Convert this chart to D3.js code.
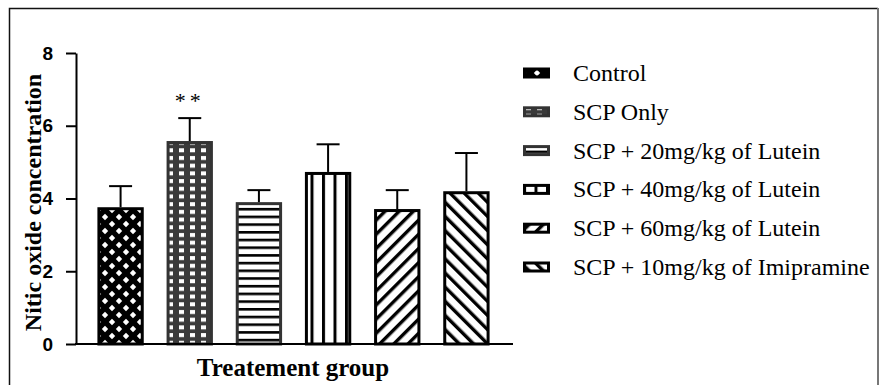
<!DOCTYPE html>
<html>
<head>
<meta charset="utf-8">
<script src="https://cdn.jsdelivr.net/npm/d3@7"></script>
<style>
	body { margin: 0; background: #fff; }
	svg { display: block; }
</style>
</head>
<body>
<div id="wrapper"></div>
<script>
// Data
const groups = [
	"Control",
	"SCP Only",
	"SCP + 20mg/kg of Lutein",
	"SCP + 40mg/kg of Lutein",
	"SCP + 60mg/kg of Lutein",
	"SCP + 10mg/kg of Imipramine",
];
const means = [3.76, 5.58, 3.9, 4.73, 3.71, 4.2];
const errors = [0.58, 0.63, 0.33, 0.76, 0.52, 1.05];
const marks = ["", "**", "", "", "", ""];
const yTicks = [0, 2, 4, 6, 8];
const patternIds = ["p-cross", "p-grid", "p-hstripe", "p-vstripe", "p-fwd", "p-back"];

const dimensions = {
	width: 880,
	height: 385,
	margins: { top: 53, right: 367, bottom: 41, left: 76 },
};
dimensions.boundedWidth =
	dimensions.width - dimensions.margins.left - dimensions.margins.right;
dimensions.boundedHeight =
	dimensions.height - dimensions.margins.top - dimensions.margins.bottom;

const svg = d3
	.select("#wrapper")
	.append("svg")
	.attr("width", dimensions.width)
	.attr("height", dimensions.height);

// frame
svg
	.append("path")
	.attr("d", "M9.5,390 V8.5 H878")
	.attr("fill", "none")
	.attr("stroke", "#111")
	.attr("stroke-width", 1.5);
svg
	.append("line")
	.attr("x1", 878).attr("x2", 878)
	.attr("y1", 8).attr("y2", 390)
	.attr("stroke", "#777")
	.attr("stroke-width", 2);

// Patterns
const defs = svg.append("defs");

const cross = defs.append("pattern").attr("id", "p-cross")
	.attr("patternUnits", "userSpaceOnUse").attr("width", 14).attr("height", 14);
cross.append("rect").attr("width", 14).attr("height", 14).attr("fill", "#000");
[[7, 7], [0, 0], [14, 0], [0, 14], [14, 14]].forEach(([cx, cy]) => {
	cross.append("path")
		.attr("d", `M${cx},${cy - 3.2} L${cx + 3.2},${cy} L${cx},${cy + 3.2} L${cx - 3.2},${cy} Z`)
		.attr("fill", "#fff");
});

const grid = defs.append("pattern").attr("id", "p-grid")
	.attr("patternUnits", "userSpaceOnUse").attr("width", 11).attr("height", 7.7);
grid.append("rect").attr("width", 11).attr("height", 7.7).attr("fill", "#3a3a3a");
grid.append("rect").attr("x", 3).attr("y", 2).attr("width", 5).attr("height", 4).attr("fill", "#fff");

const hs = defs.append("pattern").attr("id", "p-hstripe")
	.attr("patternUnits", "userSpaceOnUse").attr("width", 10).attr("height", 7.7);
hs.append("rect").attr("width", 10).attr("height", 7.7).attr("fill", "#fff");
hs.append("rect").attr("y", 0).attr("width", 10).attr("height", 2.6).attr("fill", "#000");

const vs = defs.append("pattern").attr("id", "p-vstripe")
	.attr("patternUnits", "userSpaceOnUse").attr("width", 11.5).attr("height", 10);
vs.append("rect").attr("width", 11.5).attr("height", 10).attr("fill", "#fff");
vs.append("rect").attr("x", 0).attr("width", 3).attr("height", 10).attr("fill", "#000");

const fwd = defs.append("pattern").attr("id", "p-fwd")
	.attr("patternUnits", "userSpaceOnUse").attr("width", 10).attr("height", 10)
	.attr("patternTransform", "rotate(45)");
fwd.append("rect").attr("width", 10).attr("height", 10).attr("fill", "#fff");
fwd.append("rect").attr("width", 3.4).attr("height", 10).attr("fill", "#000");

const back = defs.append("pattern").attr("id", "p-back")
	.attr("patternUnits", "userSpaceOnUse").attr("width", 10).attr("height", 10)
	.attr("patternTransform", "rotate(-45)");
back.append("rect").attr("width", 10).attr("height", 10).attr("fill", "#fff");
back.append("rect").attr("width", 3.4).attr("height", 10).attr("fill", "#000");

// Scales
const yScale = d3
	.scaleLinear()
	.domain([0, 8])
	.range([dimensions.height - dimensions.margins.bottom, dimensions.margins.top]);

const xScale = d3
	.scaleBand()
	.domain(groups)
	.range([dimensions.margins.left + 10, dimensions.margins.left + 425])
	.paddingInner(0.33)
	.paddingOuter(0.165);

const strokeColors = ["#000", "#333", "#333", "#000", "#000", "#000"];

// Bars
const bars = svg.append("g");
bars
	.selectAll("rect")
	.data(groups)
	.join("rect")
	.attr("x", (d) => xScale(d) + 1.5)
	.attr("width", xScale.bandwidth() - 3)
	.attr("y", (d, i) => yScale(means[i]) + 1.5)
	.attr("height", (d, i) => yScale(0) - yScale(means[i]) - 1.5)
	.attr("fill", (d, i) => `url(#${patternIds[i]})`)
	.attr("stroke", (d, i) => strokeColors[i])
	.attr("stroke-width", 3);

// Error bars (upper only)
const err = svg.append("g").attr("stroke", "#000").attr("stroke-width", 2);
groups.forEach((g, i) => {
	const cx = xScale(g) + xScale.bandwidth() / 2;
	err.append("line")
		.attr("x1", cx).attr("x2", cx)
		.attr("y1", yScale(means[i]))
		.attr("y2", yScale(means[i] + errors[i]));
	err.append("line")
		.attr("x1", cx - 11.5).attr("x2", cx + 11.5)
		.attr("y1", yScale(means[i] + errors[i]))
		.attr("y2", yScale(means[i] + errors[i]));
});

// Significance marks
svg
	.append("g")
	.selectAll("text")
	.data(groups)
	.join("text")
	.attr("x", (d) => xScale(d) + xScale.bandwidth() / 2)
	.attr("y", (d, i) => yScale(means[i] + errors[i]) - 10)
	.attr("text-anchor", "middle")
	.attr("font-family", "Liberation Serif")
	.attr("font-size", 22)
	.attr("letter-spacing", 4)
	.text((d, i) => marks[i]);

// Axes
const yAxisGenerator = d3
	.axisLeft(yScale)
	.tickValues(yTicks)
	.tickSize(10)
	.tickSizeOuter(0)
	.tickPadding(13)
	.tickFormat(d3.format("d"));

const yAxis = svg
	.append("g")
	.attr("transform", `translate(${dimensions.margins.left}, 0)`)
	.call(yAxisGenerator);
yAxis.selectAll("path, line").attr("stroke", "#000").attr("stroke-width", 2);
yAxis
	.selectAll("text")
	.attr("font-family", "Liberation Sans")
	.attr("font-weight", "bold")
	.attr("font-size", 19)
	.attr("fill", "#000");

svg
	.append("line")
	.attr("x1", dimensions.margins.left - 1)
	.attr("x2", dimensions.margins.left + 437)
	.attr("y1", yScale(0))
	.attr("y2", yScale(0))
	.attr("stroke", "#000")
	.attr("stroke-width", 2);

// Axis titles
svg
	.append("text")
	.attr("transform", `translate(41, ${(yScale(0) + yScale(8)) / 2 + 4}) rotate(-90)`)
	.attr("text-anchor", "middle")
	.attr("font-family", "Liberation Serif")
	.attr("font-weight", "bold")
	.attr("font-size", 24)
	.text("Nitic oxide concentration");

svg
	.append("text")
	.attr("x", 293)
	.attr("y", 376)
	.attr("text-anchor", "middle")
	.attr("font-family", "Liberation Serif")
	.attr("font-weight", "bold")
	.attr("font-size", 25)
	.text("Treatement group");

// Legend
const legendY = d3.scalePoint().domain(groups).range([73, 267]);
const legend = svg
	.append("g")
	.selectAll("g")
	.data(groups)
	.join("g")
	.attr("transform", (d) => `translate(523, ${legendY(d)})`);
legend
	.append("rect")
	.attr("x", 1.5)
	.attr("y", -4)
	.attr("width", 24)
	.attr("height", 8)
	.attr("fill", (d, i) => `url(#${patternIds[i]})`)
	.attr("stroke", (d, i) => strokeColors[i])
	.attr("stroke-width", 3);
legend
	.append("text")
	.attr("x", 50)
	.attr("y", 8)
	.attr("font-family", "Liberation Serif")
	.attr("font-size", 24)
	.attr("fill", "#000")
	.text((d) => d);
</script>
</body>
</html>
